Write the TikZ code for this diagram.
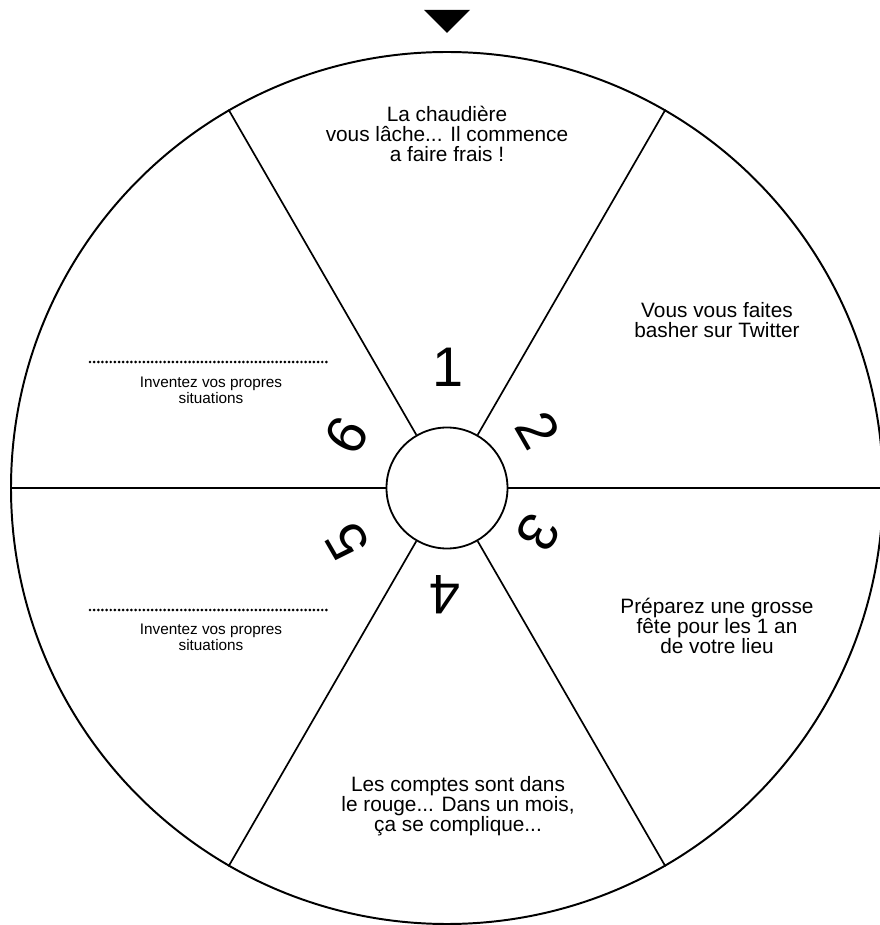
\documentclass[tikz,border=0pt]{standalone}
\usepackage{fontspec}
\setmainfont{Liberation Sans}
\usepackage{tikz}
\usetikzlibrary{positioning}
\tikzset{
  wheel/.style={
    circle, draw=black, line width=1.4pt,
    minimum size=21.8cm, inner sep=0pt
  },
  hub/.style={
    circle, draw=black, line width=1.3pt, fill=white,
    minimum size=3.025cm, inner sep=0pt
  },
  spoke/.style={draw=black, line width=1.2pt},
  numlabel/.style={font=\fontsize{39.7}{40}\selectfont, inner sep=0pt},
  situation/.style={
    align=center, inner sep=0pt,
    font=\fontsize{14.8}{14.2}\selectfont
  },
  blank/.style={
    align=center, inner sep=0pt,
    font=\fontsize{10.9}{11.4}\selectfont
  },
  dotrule/.style={line width=2.1pt, line cap=round, dash pattern=on 0pt off 2.95pt}
}

\begin{document}
\begin{tikzpicture}

\useasboundingbox (-11.175,-10.925) rectangle (10.825,12.2);

% Wheel and hub
\node[wheel] (wheel) at (0,0) {};
\node[hub] (hub) at (0,0) {};

% Spokes
\draw[spoke] (hub.0) -- (wheel.0);
\draw[spoke] (hub.60) -- (wheel.60);
\draw[spoke] (hub.120) -- (wheel.120);
\draw[spoke] (hub.180) -- (wheel.180);
\draw[spoke] (hub.240) -- (wheel.240);
\draw[spoke] (hub.300) -- (wheel.300);

% Pointer
\fill[black] (-0.575,11.95) -- (0.575,11.95) -- (0,11.375) -- cycle;

% Numbers
\node[numlabel] (n1) at (0.025,3.025) {1};
\node[numlabel, rotate=-60] (n2) at (2.275,1.45) {2};
\node[numlabel, rotate=-120] (n3) at (2.275,-1.125) {3};
\node[numlabel, rotate=180] (n4) at (-0.05,-2.675) {4};
\node[numlabel, rotate=120] (n5) at (-2.5,-1.35) {5};
\node[numlabel, rotate=60] (n6) at (-2.5,1.325) {6};

% Situations
\node[situation] (s1) at (0,8.85) {La chaudière\\vous lâche... Il commence\\a faire frais !};
\node[situation] (s2) at (6.75,4.21) {Vous vous faites\\basher sur Twitter};
\node[situation] (s3) at (6.75,-3.45) {Préparez une grosse\\fête pour les 1 an\\de votre lieu};
\node[situation] (s4) at (0.275,-7.95) {Les comptes sont dans\\le rouge... Dans un mois,\\ça se complique...};

% Blank ones
\node[blank] (s6) at (-5.9,2.45) {Inventez vos propres\\situations};
\coordinate (d6a) at (-8.925,3.15);
\coordinate (d6b) at (-2.925,3.15);
\draw[dotrule] (d6a) -- (d6b);

\node[blank] (s5) at (-5.9,-3.74) {Inventez vos propres\\situations};
\coordinate (d5a) at (-8.925,-3.05);
\coordinate (d5b) at (-2.925,-3.05);
\draw[dotrule] (d5a) -- (d5b);

\end{tikzpicture}
\end{document}
